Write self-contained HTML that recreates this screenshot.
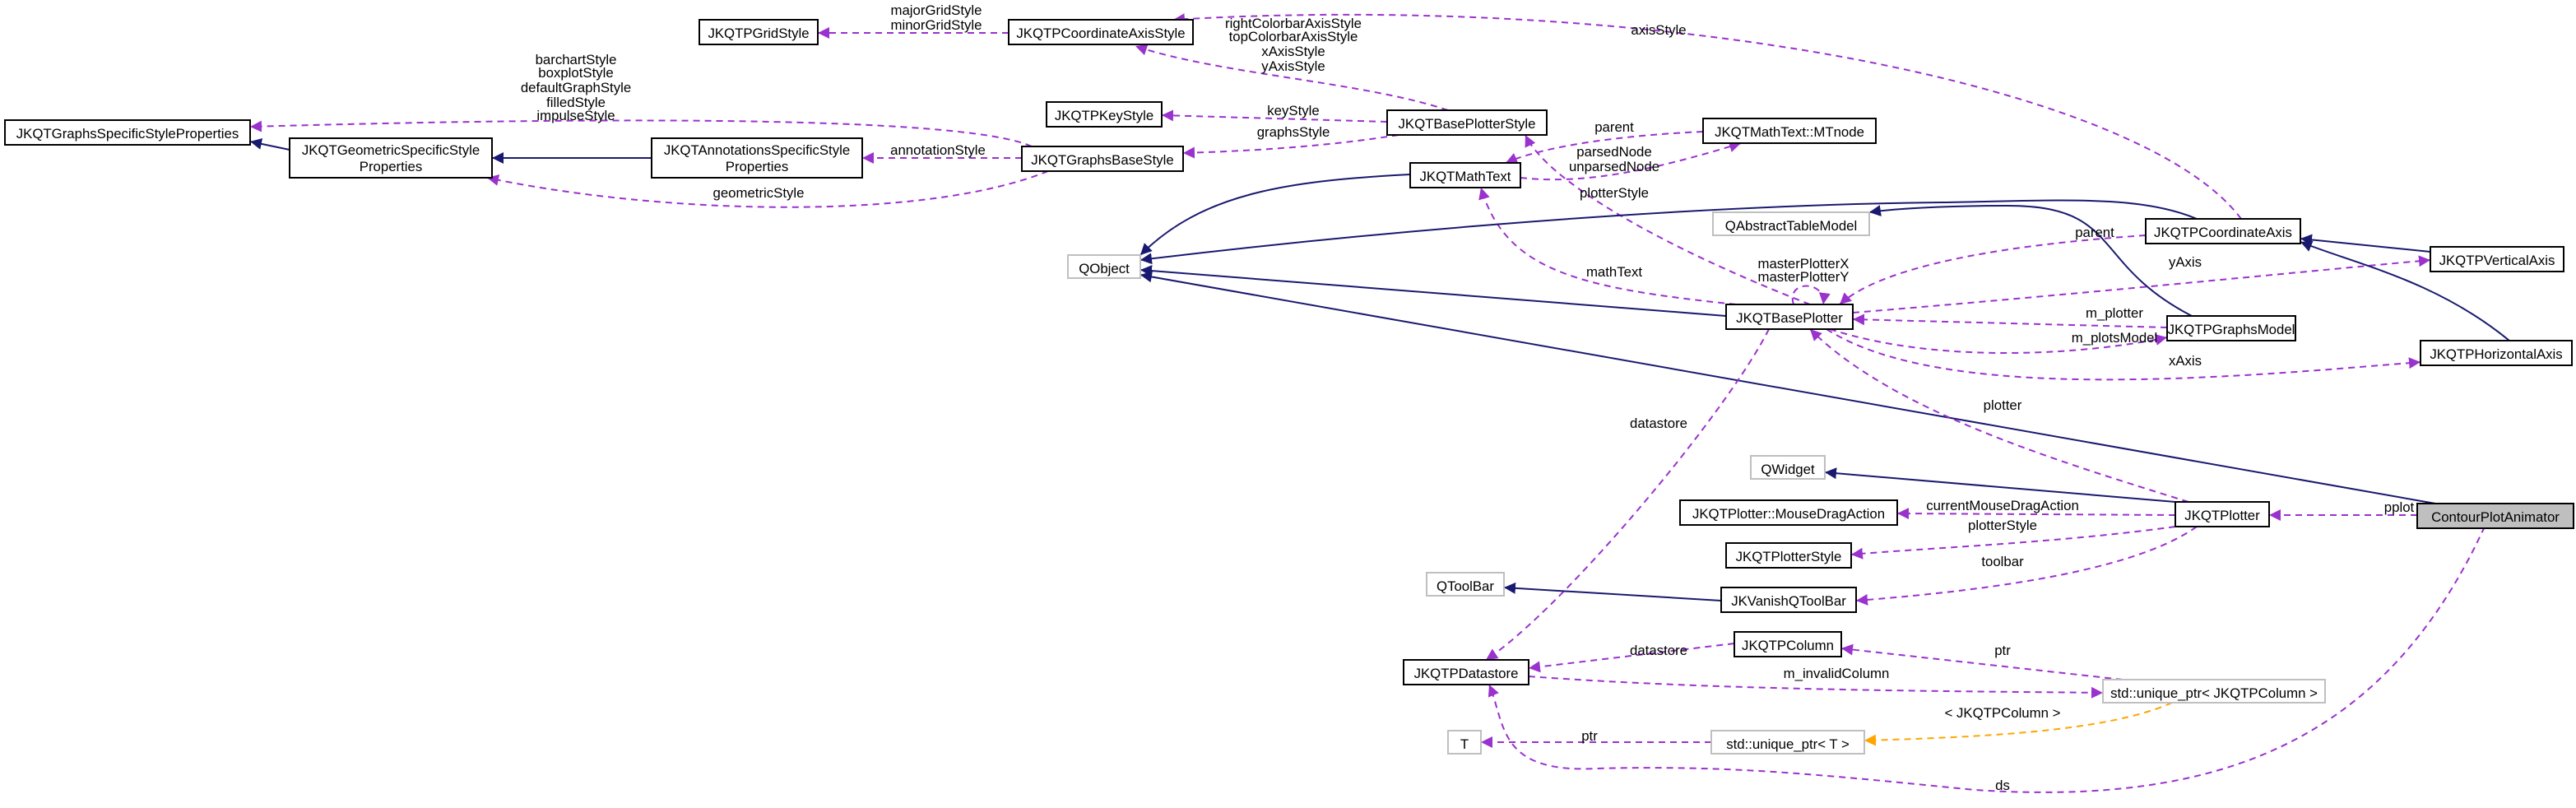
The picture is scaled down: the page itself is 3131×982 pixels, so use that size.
<!DOCTYPE html>
<html><head><meta charset="utf-8"><style>
html,body{margin:0;padding:0;background:#fff;}
svg{display:block;}
text{font-family:"Liberation Sans",Helvetica,Arial,sans-serif;font-size:8.4px;fill:#000;}
.b{fill:#fff;stroke:#000;stroke-width:1;}
.g{fill:#fff;stroke:#bfbfbf;stroke-width:1;}
.p{fill:none;stroke:#9a32cd;stroke-width:1;stroke-dasharray:4,3;marker-end:url(#ap);}
.n{fill:none;stroke:#191970;stroke-width:1;marker-end:url(#an);}
.o{fill:none;stroke:#ffa500;stroke-width:1;stroke-dasharray:4,3;marker-end:url(#ao);}
</style></head><body>
<svg width="3131" height="982" viewBox="0 0 1565.5 491" xmlns="http://www.w3.org/2000/svg">
<defs>
<marker id="ap" markerWidth="8" markerHeight="8" refX="7" refY="3.5" orient="auto" markerUnits="userSpaceOnUse"><path d="M0,0L7,3.5L0,7z" fill="#9a32cd"/></marker>
<marker id="an" markerWidth="8" markerHeight="8" refX="7" refY="3.5" orient="auto" markerUnits="userSpaceOnUse"><path d="M0,0L7,3.5L0,7z" fill="#191970"/></marker>
<marker id="ao" markerWidth="8" markerHeight="8" refX="7" refY="3.5" orient="auto" markerUnits="userSpaceOnUse"><path d="M0,0L7,3.5L0,7z" fill="#ffa500"/></marker>
</defs>

<g>
<path class="p" d="M613,20L497,20"/>
<path class="p" d="M880,67C830,50 740,45 690,28"/>
<path class="p" d="M1362,133C1300,50 1000,-5 713,12"/>
<path class="p" d="M627,89C590,72 400,70 152,77"/>
<path class="n" d="M176,91L152,86"/>
<path class="n" d="M396,96L299,96"/>
<path class="p" d="M621,96L524,96"/>
<path class="p" d="M637,104C560,135 400,130 296,108"/>
<path class="p" d="M843,74L706,70"/>
<path class="p" d="M850,82C800,90 750,92 719,93"/>
<path class="p" d="M1035,80C990,82 940,88 915,99"/>
<path class="p" d="M924,108C960,112 1000,105 1058,87"/>
<path class="p" d="M1100,185C1010,150 940,110 927,82"/>
<path class="p" d="M1055,185C960,175 915,165 900,114"/>
<path class="p" d="M1090,185C1085,170 1110,170 1108,185"/>
<path class="p" d="M1304,143C1200,150 1140,165 1118,185"/>
<path class="p" d="M1126,190C1250,180 1400,165 1477,158"/>
<path class="p" d="M1317,199L1126,194"/>
<path class="p" d="M1112,200C1180,222 1270,215 1317,205"/>
<path class="p" d="M1110,200C1180,245 1350,230 1471,220"/>
<path class="n" d="M857,106C780,110 730,118 693,155"/>
<path class="n" d="M1335,133C1300,118 1250,122 1180,123C1000,125 800,145 693,158"/>
<path class="n" d="M1049,192L693,164"/>
<path class="n" d="M1480,306L693,167"/>
<path class="n" d="M1332,192C1270,160 1290,125 1220,125C1180,125 1150,127 1136,129"/>
<path class="n" d="M1477,153L1398,145"/>
<path class="n" d="M1525,207C1480,170 1430,160 1398,147"/>
<path class="p" d="M1075,200C1050,250 950,370 903,401"/>
<path class="p" d="M1330,305C1250,280 1150,250 1100,200"/>
<path class="n" d="M1322,305L1109,287"/>
<path class="p" d="M1322,313L1153,312"/>
<path class="p" d="M1322,320C1250,330 1170,333 1125,337"/>
<path class="p" d="M1335,320C1300,345 1220,358 1128,365"/>
<path class="n" d="M1046,365L914,357"/>
<path class="p" d="M1469,313L1379,313"/>
<path class="p" d="M1510,320C1450,450 1350,490 1200,480C1100,470 1050,465 970,467C910,470 915,440 905,416"/>
<path class="p" d="M1054,391L929,406"/>
<path class="p" d="M929,411C1050,420 1200,420 1278,421"/>
<path class="p" d="M1290,413L1119,394"/>
<path class="o" d="M1320,427C1280,445 1200,448 1133,450"/>
<path class="p" d="M1040,451L900,451"/>
</g>

<g text-anchor="middle">
<text x="569" y="9">majorGridStyle</text><text x="569" y="18">minorGridStyle</text>
<text x="786" y="17">rightColorbarAxisStyle</text><text x="786" y="25">topColorbarAxisStyle</text><text x="786" y="34">xAxisStyle</text><text x="786" y="43">yAxisStyle</text>
<text x="1008" y="21">axisStyle</text>
<text x="350" y="39">barchartStyle</text><text x="350" y="47">boxplotStyle</text><text x="350" y="56">defaultGraphStyle</text><text x="350" y="65">filledStyle</text><text x="350" y="73">impulseStyle</text>
<text x="570" y="94">annotationStyle</text>
<text x="461" y="120">geometricStyle</text>
<text x="786" y="70">keyStyle</text>
<text x="786" y="83">graphsStyle</text>
<text x="981" y="80">parent</text>
<text x="981" y="95">parsedNode</text><text x="981" y="104">unparsedNode</text>
<text x="981" y="120">plotterStyle</text>
<text x="981" y="168">mathText</text>
<text x="1096" y="163">masterPlotterX</text><text x="1096" y="171">masterPlotterY</text>
<text x="1273" y="144">parent</text>
<text x="1328" y="162">yAxis</text>
<text x="1285" y="193">m_plotter</text>
<text x="1285" y="208">m_plotsModel</text>
<text x="1328" y="222">xAxis</text>
<text x="1008" y="260">datastore</text>
<text x="1217" y="249">plotter</text>
<text x="1217" y="310">currentMouseDragAction</text>
<text x="1217" y="322">plotterStyle</text>
<text x="1217" y="344">toolbar</text>
<text x="1458" y="311">pplot</text>
<text x="1217" y="480">ds</text>
<text x="1008" y="398">datastore</text>
<text x="1116" y="412">m_invalidColumn</text>
<text x="1217" y="398">ptr</text>
<text x="1217" y="436">&lt; JKQTPColumn &gt;</text>
<text x="966" y="450">ptr</text>
</g>

<g text-anchor="middle">
<g><rect class="b" x="425" y="12" width="72" height="15"/><text x="461" y="23">JKQTPGridStyle</text></g>
<g><rect class="b" x="613" y="12" width="112" height="15"/><text x="669" y="23">JKQTPCoordinateAxisStyle</text></g>
<g><rect class="b" x="3" y="73" width="149" height="15"/><text x="77.5" y="84">JKQTGraphsSpecificStyleProperties</text></g>
<g><rect class="b" x="176" y="84" width="123" height="24"/><text x="237.5" y="94">JKQTGeometricSpecificStyle</text><text x="237.5" y="104">Properties</text></g>
<g><rect class="b" x="396" y="84" width="128" height="24"/><text x="460" y="94">JKQTAnnotationsSpecificStyle</text><text x="460" y="104">Properties</text></g>
<g><rect class="b" x="636" y="62" width="70" height="15"/><text x="671" y="73">JKQTPKeyStyle</text></g>
<g><rect class="b" x="621" y="89" width="98" height="15"/><text x="670" y="100">JKQTGraphsBaseStyle</text></g>
<g><rect class="b" x="843" y="67" width="97" height="15"/><text x="891.5" y="78">JKQTBasePlotterStyle</text></g>
<g><rect class="b" x="857" y="99" width="67" height="15"/><text x="890.5" y="110">JKQTMathText</text></g>
<g><rect class="b" x="1035" y="72" width="105" height="15"/><text x="1087.5" y="83">JKQTMathText::MTnode</text></g>
<g><rect class="g" x="649" y="155" width="44" height="14"/><text x="671" y="166">QObject</text></g>
<g><rect class="g" x="1041" y="129" width="95" height="14"/><text x="1088.5" y="140">QAbstractTableModel</text></g>
<g><rect class="b" x="1304" y="133" width="94" height="15"/><text x="1351" y="144">JKQTPCoordinateAxis</text></g>
<g><rect class="b" x="1477" y="150" width="81" height="15"/><text x="1517.5" y="161">JKQTPVerticalAxis</text></g>
<g><rect class="b" x="1049" y="185" width="77" height="15"/><text x="1087.5" y="196">JKQTBasePlotter</text></g>
<g><rect class="b" x="1317" y="192" width="78" height="15"/><text x="1356" y="203">JKQTPGraphsModel</text></g>
<g><rect class="b" x="1471" y="207" width="92" height="15"/><text x="1517" y="218">JKQTPHorizontalAxis</text></g>
<g><rect class="g" x="1064" y="277" width="45" height="14"/><text x="1086.5" y="288">QWidget</text></g>
<g><rect class="b" x="1021" y="304" width="132" height="15"/><text x="1087" y="315">JKQTPlotter::MouseDragAction</text></g>
<g><rect class="b" x="1322" y="305" width="57" height="15"/><text x="1350.5" y="316">JKQTPlotter</text></g>
<g><rect x="1469" y="306" width="95" height="15" fill="#bfbfbf" stroke="#000"/><text x="1516.5" y="317">ContourPlotAnimator</text></g>
<g><rect class="b" x="1049" y="330" width="76" height="15"/><text x="1087" y="341">JKQTPlotterStyle</text></g>
<g><rect class="g" x="867" y="348" width="47" height="14"/><text x="890.5" y="359">QToolBar</text></g>
<g><rect class="b" x="1046" y="357" width="82" height="15"/><text x="1087" y="368">JKVanishQToolBar</text></g>
<g><rect class="b" x="1054" y="384" width="65" height="15"/><text x="1086.5" y="395">JKQTPColumn</text></g>
<g><rect class="b" x="853" y="401" width="76" height="15"/><text x="891" y="412">JKQTPDatastore</text></g>
<g><rect class="g" x="1278" y="413" width="135" height="14"/><text x="1345.5" y="424">std::unique_ptr&lt; JKQTPColumn &gt;</text></g>
<g><rect class="g" x="880" y="444" width="20" height="14"/><text x="890" y="455">T</text></g>
<g><rect class="g" x="1040" y="444" width="93" height="14"/><text x="1086.5" y="455">std::unique_ptr&lt; T &gt;</text></g>
</g>
</svg>
</body></html>
